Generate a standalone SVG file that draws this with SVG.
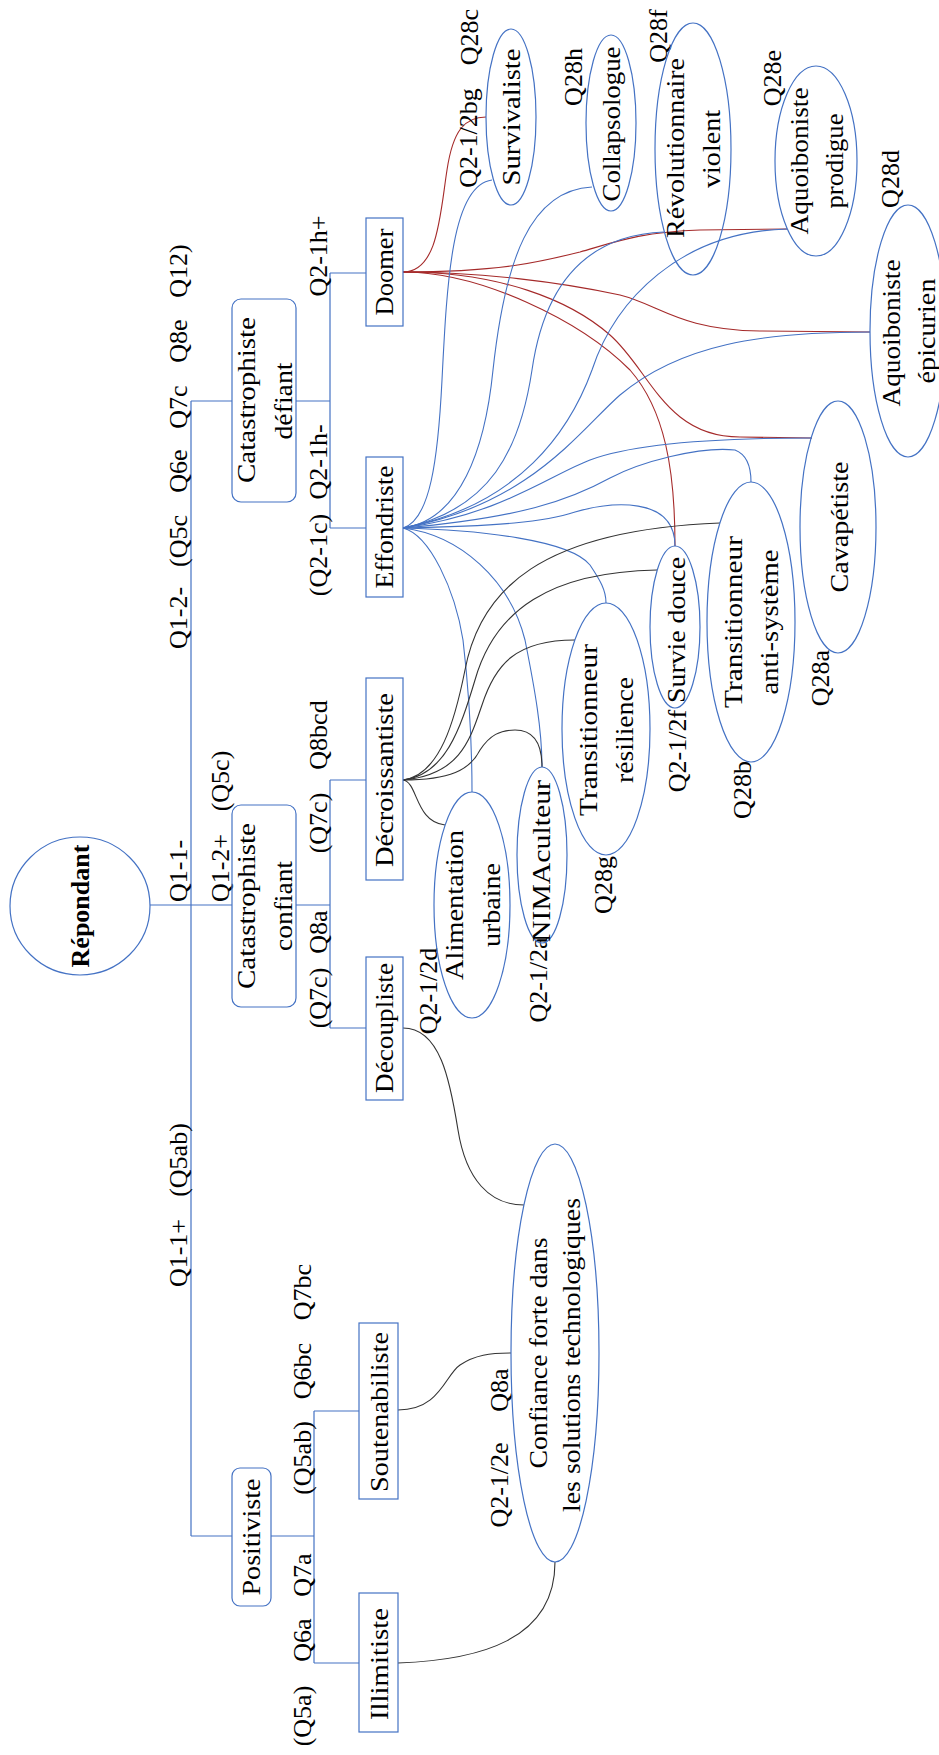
<svg xmlns="http://www.w3.org/2000/svg" width="939" height="1755" viewBox="0 0 939 1755">
<style>
.bg{fill:#fff}
.n{fill:none;stroke:#4472C4;stroke-width:1.2}
.t{font-family:"Liberation Serif","Times New Roman",serif;font-size:26px;fill:#000}
.b{font-weight:bold}
.tree{fill:none;stroke:#4472C4;stroke-width:1.2}
.cb{fill:none;stroke:#4472C4;stroke-width:1.1}
.cr{fill:none;stroke:#A52A2A;stroke-width:1.1}
.ck{fill:none;stroke:#333;stroke-width:1.1}
</style>
<rect class="bg" x="0" y="0" width="939" height="1755"/>

<g id="connectors">
  <path class="tree" d="M150,905 H232 M191,401 V1536 M191,401 H232 M296,401 H330 M330,273 V528 M330,273 H366 M330,528 H366 M296,905 H330 M330,780 V1028 M330,780 H366 M330,1028 H366 M191,1536 H232 M271,1536 H314 M314,1411 V1663 M314,1411 H359 M314,1663 H359"/>
  <!-- red from Doomer -->
  <path class="cr" d="M403,272 C438,272 440,215 447,170 C453,130 465,117 486,117"/>
  <path class="cr" d="M403,272 C500,272 540,262 580,252 C615,242 640,232 700,230 L787,229"/>
  <path class="cr" d="M403,272 C480,272 560,282 620,295 C660,305 680,330 760,331 L870,332"/>
  <path class="cr" d="M403,272 C500,272 570,300 610,335 C650,370 665,437 740,437 L812,438"/>
  <path class="cr" d="M403,272 C480,272 580,320 630,370 C665,410 675,470 675,546"/>
  <!-- blue from Effondriste -->
  <path class="cb" d="M403,528 C430,520 438,460 442,380 C447,280 452,185 492,180"/>
  <path class="cb" d="M403,528 C460,520 485,450 493,370 C505,260 530,190 592,187"/>
  <path class="cb" d="M403,528 C490,510 520,450 532,370 C545,280 590,235 664,232"/>
  <path class="cb" d="M403,528 C520,505 570,430 592,370 C615,300 680,232 787,229"/>
  <path class="cb" d="M403,528 C530,505 580,430 620,395 C680,345 760,332 870,332"/>
  <path class="cb" d="M403,528 C500,515 550,475 590,460 C630,445 700,438 812,438"/>
  <path class="cb" d="M403,528 C520,518 570,500 610,478 C640,462 700,446 735,450 C748,455 751,470 751,482"/>
  <path class="cb" d="M403,528 C500,526 545,522 575,512 C610,502 675,495 675,546"/>
  <path class="cb" d="M403,528 C480,530 570,540 590,565 C600,580 606,590 606,603"/>
  <path class="cb" d="M403,528 C460,535 510,580 525,640 C535,690 542,730 542,767"/>
  <path class="cb" d="M403,528 C430,535 455,590 463,640 C470,700 472,750 472,792"/>
  <!-- black from Décroissantiste -->
  <path class="ck" d="M403,780 C418,782 415,822 445,825"/>
  <path class="ck" d="M403,780 C450,780 470,770 480,750 C490,735 500,730 515,730 C535,730 542,745 542,767"/>
  <path class="ck" d="M403,780 C460,775 470,740 482,705 C495,665 515,640 575,640"/>
  <path class="ck" d="M403,780 C445,775 460,730 475,680 C495,610 550,572 657,570"/>
  <path class="ck" d="M403,780 C440,775 455,720 465,670 C480,590 540,530 720,523"/>
  <!-- black to Confiance -->
  <path class="ck" d="M403,1028 C440,1028 450,1080 458,1130 C466,1180 490,1205 524,1205"/>
  <path class="ck" d="M398,1410 C440,1410 445,1375 460,1365 C475,1355 490,1353 511,1353"/>
  <path class="ck" d="M398,1663 C480,1660 555,1640 555,1562"/>
</g>

<g id="labels" class="t">
  <text x="187" y="618" transform="rotate(-90 187 618)" text-anchor="middle">Q1-2-</text>
  <text x="187" y="541" transform="rotate(-90 187 541)" text-anchor="middle">(Q5c</text>
  <text x="187" y="471" transform="rotate(-90 187 471)" text-anchor="middle">Q6e</text>
  <text x="187" y="407" transform="rotate(-90 187 407)" text-anchor="middle">Q7c</text>
  <text x="187" y="341" transform="rotate(-90 187 341)" text-anchor="middle">Q8e</text>
  <text x="187" y="271" transform="rotate(-90 187 271)" text-anchor="middle">Q12)</text>
  <text x="187" y="871" transform="rotate(-90 187 871)" text-anchor="middle">Q1-1-</text>
  <text x="187" y="1253" transform="rotate(-90 187 1253)" text-anchor="middle">Q1-1+</text>
  <text x="187" y="1160" transform="rotate(-90 187 1160)" text-anchor="middle">(Q5ab)</text>
  <text x="229" y="868" transform="rotate(-90 229 868)" text-anchor="middle">Q1-2+</text>
  <text x="229" y="781" transform="rotate(-90 229 781)" text-anchor="middle">(Q5c)</text>
  <text x="327" y="256" transform="rotate(-90 327 256)" text-anchor="middle">Q2-1h+</text>
  <text x="327" y="555" transform="rotate(-90 327 555)" text-anchor="middle">(Q2-1c)</text>
  <text x="327" y="462" transform="rotate(-90 327 462)" text-anchor="middle">Q2-1h-</text>
  <text x="327" y="823" transform="rotate(-90 327 823)" text-anchor="middle">(Q7c)</text>
  <text x="327" y="735" transform="rotate(-90 327 735)" text-anchor="middle">Q8bcd</text>
  <text x="327" y="998" transform="rotate(-90 327 998)" text-anchor="middle">(Q7c)</text>
  <text x="327" y="932" transform="rotate(-90 327 932)" text-anchor="middle">Q8a</text>
  <text x="311" y="1292" transform="rotate(-90 311 1292)" text-anchor="middle">Q7bc</text>
  <text x="311" y="1371" transform="rotate(-90 311 1371)" text-anchor="middle">Q6bc</text>
  <text x="311" y="1458" transform="rotate(-90 311 1458)" text-anchor="middle">(Q5ab)</text>
  <text x="311" y="1575" transform="rotate(-90 311 1575)" text-anchor="middle">Q7a</text>
  <text x="311" y="1640" transform="rotate(-90 311 1640)" text-anchor="middle">Q6a</text>
  <text x="311" y="1716" transform="rotate(-90 311 1716)" text-anchor="middle">(Q5a)</text>
  <text x="478" y="37" transform="rotate(-90 478 37)" text-anchor="middle">Q28c</text>
  <text x="477" y="138" transform="rotate(-90 477 138)" text-anchor="middle">Q2-1/2bg</text>
  <text x="582" y="77" transform="rotate(-90 582 77)" text-anchor="middle">Q28h</text>
  <text x="667" y="36" transform="rotate(-90 667 36)" text-anchor="middle">Q28f</text>
  <text x="781" y="78" transform="rotate(-90 781 78)" text-anchor="middle">Q28e</text>
  <text x="899" y="179" transform="rotate(-90 899 179)" text-anchor="middle">Q28d</text>
  <text x="829" y="678" transform="rotate(-90 829 678)" text-anchor="middle">Q28a</text>
  <text x="751" y="790" transform="rotate(-90 751 790)" text-anchor="middle">Q28b</text>
  <text x="686" y="751" transform="rotate(-90 686 751)" text-anchor="middle">Q2-1/2f</text>
  <text x="612" y="885" transform="rotate(-90 612 885)" text-anchor="middle">Q28g</text>
  <text x="547" y="980" transform="rotate(-90 547 980)" text-anchor="middle">Q2-1/2a</text>
  <text x="437" y="991" transform="rotate(-90 437 991)" text-anchor="middle">Q2-1/2d</text>
  <text x="508" y="1485" transform="rotate(-90 508 1485)" text-anchor="middle">Q2-1/2e</text>
  <text x="508" y="1390" transform="rotate(-90 508 1390)" text-anchor="middle">Q8a</text>
</g>

<g id="repondant">
  <ellipse class="n" cx="80" cy="906" rx="70" ry="69"/>
  <text class="t b" x="89" y="906" transform="rotate(-90 89 906)" text-anchor="middle">Répondant</text>
</g>
<g id="catastrophiste-defiant">
  <rect class="n" x="232" y="299" width="64" height="203" rx="9"/>
  <text class="t" x="255" y="400" transform="rotate(-90 255 400)" text-anchor="middle" textLength="166" lengthAdjust="spacingAndGlyphs">Catastrophiste</text>
  <text class="t" x="292" y="401" transform="rotate(-90 292 401)" text-anchor="middle" textLength="77" lengthAdjust="spacingAndGlyphs">défiant</text>
</g>
<g id="catastrophiste-confiant">
  <rect class="n" x="232" y="805" width="64" height="202" rx="9"/>
  <text class="t" x="255" y="906" transform="rotate(-90 255 906)" text-anchor="middle" textLength="166" lengthAdjust="spacingAndGlyphs">Catastrophiste</text>
  <text class="t" x="292" y="906" transform="rotate(-90 292 906)" text-anchor="middle" textLength="90" lengthAdjust="spacingAndGlyphs">confiant</text>
</g>
<g id="positiviste">
  <rect class="n" x="232" y="1468" width="39" height="138" rx="8"/>
  <text class="t" x="260" y="1537" transform="rotate(-90 260 1537)" text-anchor="middle" textLength="117" lengthAdjust="spacingAndGlyphs">Positiviste</text>
</g>
<g id="doomer">
  <rect class="n" x="366" y="218" width="37" height="108"/>
  <text class="t" x="393" y="272" transform="rotate(-90 393 272)" text-anchor="middle" textLength="87" lengthAdjust="spacingAndGlyphs">Doomer</text>
</g>
<g id="effondriste">
  <rect class="n" x="366" y="457" width="37" height="140"/>
  <text class="t" x="393" y="527" transform="rotate(-90 393 527)" text-anchor="middle" textLength="123" lengthAdjust="spacingAndGlyphs">Effondriste</text>
</g>
<g id="decroissantiste">
  <rect class="n" x="366" y="678" width="37" height="202"/>
  <text class="t" x="393" y="780" transform="rotate(-90 393 780)" text-anchor="middle" textLength="174" lengthAdjust="spacingAndGlyphs">Décroissantiste</text>
</g>
<g id="decoupliste">
  <rect class="n" x="366" y="957" width="37" height="143"/>
  <text class="t" x="393" y="1028" transform="rotate(-90 393 1028)" text-anchor="middle" textLength="130" lengthAdjust="spacingAndGlyphs">Découpliste</text>
</g>
<g id="soutenabiliste">
  <rect class="n" x="359" y="1323" width="39" height="176"/>
  <text class="t" x="388" y="1412" transform="rotate(-90 388 1412)" text-anchor="middle" textLength="160" lengthAdjust="spacingAndGlyphs">Soutenabiliste</text>
</g>
<g id="illimitiste">
  <rect class="n" x="359" y="1593" width="39" height="139"/>
  <text class="t" x="388" y="1664" transform="rotate(-90 388 1664)" text-anchor="middle" textLength="112" lengthAdjust="spacingAndGlyphs">Illimitiste</text>
</g>
<g id="survivaliste">
  <ellipse class="n" cx="511" cy="117" rx="25" ry="88"/>
  <text class="t" x="520" y="117" transform="rotate(-90 520 117)" text-anchor="middle" textLength="137" lengthAdjust="spacingAndGlyphs">Survivaliste</text>
</g>
<g id="collapsologue">
  <ellipse class="n" cx="611" cy="123" rx="25" ry="88"/>
  <text class="t" x="620" y="124" transform="rotate(-90 620 124)" text-anchor="middle" textLength="155" lengthAdjust="spacingAndGlyphs">Collapsologue</text>
</g>
<g id="revolutionnaire">
  <ellipse class="n" cx="693" cy="149" rx="38" ry="126"/>
  <text class="t" x="684" y="148" transform="rotate(-90 684 148)" text-anchor="middle" textLength="180" lengthAdjust="spacingAndGlyphs">Révolutionnaire</text>
  <text class="t" x="720" y="149" transform="rotate(-90 720 149)" text-anchor="middle" textLength="78" lengthAdjust="spacingAndGlyphs">violent</text>
</g>
<g id="aquoiboniste-prodigue">
  <ellipse class="n" cx="816" cy="161" rx="41" ry="95"/>
  <text class="t" x="808" y="161" transform="rotate(-90 808 161)" text-anchor="middle" textLength="147" lengthAdjust="spacingAndGlyphs">Aquoiboniste</text>
  <text class="t" x="843" y="161" transform="rotate(-90 843 161)" text-anchor="middle" textLength="95" lengthAdjust="spacingAndGlyphs">prodigue</text>
</g>
<g id="aquoiboniste-epicurien">
  <ellipse class="n" cx="908" cy="331" rx="38" ry="126"/>
  <text class="t" x="900" y="333" transform="rotate(-90 900 333)" text-anchor="middle" textLength="147" lengthAdjust="spacingAndGlyphs">Aquoiboniste</text>
  <text class="t" x="935" y="331" transform="rotate(-90 935 331)" text-anchor="middle" textLength="105" lengthAdjust="spacingAndGlyphs">épicurien</text>
</g>
<g id="cavapetiste">
  <ellipse class="n" cx="838" cy="527" rx="38" ry="126"/>
  <text class="t" x="848" y="527" transform="rotate(-90 848 527)" text-anchor="middle" textLength="131" lengthAdjust="spacingAndGlyphs">Cavapétiste</text>
</g>
<g id="transitionneur-anti-systeme">
  <ellipse class="n" cx="751" cy="622" rx="44" ry="140"/>
  <text class="t" x="742" y="622" transform="rotate(-90 742 622)" text-anchor="middle" textLength="172" lengthAdjust="spacingAndGlyphs">Transitionneur</text>
  <text class="t" x="778" y="622" transform="rotate(-90 778 622)" text-anchor="middle" textLength="145" lengthAdjust="spacingAndGlyphs">anti-système</text>
</g>
<g id="survie-douce">
  <ellipse class="n" cx="675" cy="627" rx="25" ry="81"/>
  <text class="t" x="685" y="630" transform="rotate(-90 685 630)" text-anchor="middle" textLength="146" lengthAdjust="spacingAndGlyphs">Survie douce</text>
</g>
<g id="transitionneur-resilience">
  <ellipse class="n" cx="606" cy="729" rx="44" ry="126"/>
  <text class="t" x="597" y="730" transform="rotate(-90 597 730)" text-anchor="middle" textLength="172" lengthAdjust="spacingAndGlyphs">Transitionneur</text>
  <text class="t" x="633" y="730" transform="rotate(-90 633 730)" text-anchor="middle" textLength="106" lengthAdjust="spacingAndGlyphs">résilience</text>
</g>
<g id="nimaculteur">
  <ellipse class="n" cx="542" cy="855" rx="25" ry="88"/>
  <text class="t" x="550" y="861" transform="rotate(-90 550 861)" text-anchor="middle" textLength="162" lengthAdjust="spacingAndGlyphs">NIMAculteur</text>
</g>
<g id="alimentation-urbaine">
  <ellipse class="n" cx="472" cy="905" rx="38" ry="113"/>
  <text class="t" x="463" y="905" transform="rotate(-90 463 905)" text-anchor="middle" textLength="150" lengthAdjust="spacingAndGlyphs">Alimentation</text>
  <text class="t" x="500" y="905" transform="rotate(-90 500 905)" text-anchor="middle" textLength="84" lengthAdjust="spacingAndGlyphs">urbaine</text>
</g>
<g id="confiance-forte">
  <ellipse class="n" cx="555" cy="1353" rx="44" ry="209"/>
  <text class="t" x="547" y="1353" transform="rotate(-90 547 1353)" text-anchor="middle" textLength="231" lengthAdjust="spacingAndGlyphs">Confiance forte dans</text>
  <text class="t" x="580" y="1355" transform="rotate(-90 580 1355)" text-anchor="middle" textLength="314" lengthAdjust="spacingAndGlyphs">les solutions technologiques</text>
</g>
</svg>
